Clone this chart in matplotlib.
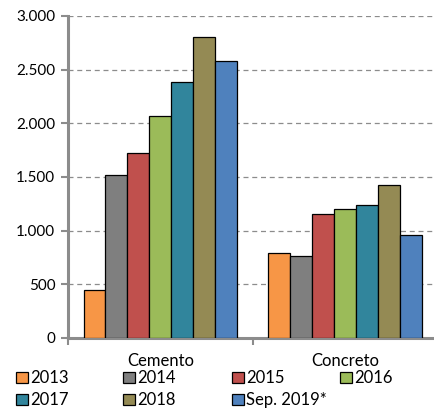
import numpy as np
import matplotlib.pyplot as plt
from matplotlib.patches import Patch
from matplotlib.ticker import FuncFormatter

plt.rcParams['font.family'] = ['Lato', 'DejaVu Sans']

categories = ['Cemento', 'Concreto']
series = ['2013', '2014', '2015', '2016', '2017', '2018', 'Sep. 2019*']
values = {
    '2013':       [450, 790],
    '2014':       [1520, 760],
    '2015':       [1720, 1150],
    '2016':       [2070, 1200],
    '2017':       [2380, 1240],
    '2018':       [2800, 1420],
    'Sep. 2019*': [2580, 960],
}
colors = ['#F79646', '#7F7F7F', '#C0504D', '#9BBB59', '#31859C', '#948A54', '#4F81BD']

fig = plt.figure(figsize=(4.35, 4.08), dpi=100)
ax = fig.add_axes([0.156, 0.172, 0.85, 0.789])

n = len(series)
group_w = 0.83
bw = group_w / n
x = np.arange(len(categories))
for i, (s, c) in enumerate(zip(series, colors)):
    ax.bar(x - group_w / 2 + bw * (i + 0.5), values[s], width=bw, color=c,
           edgecolor='black', linewidth=0.9, zorder=3)

ax.set_xlim(-0.5, 1.5)
ax.set_ylim(0, 3000)
ax.set_yticks(np.arange(0, 3001, 500))
ax.yaxis.set_major_formatter(FuncFormatter(lambda v, p: f'{int(v):,}'.replace(',', '.')))
ax.grid(axis='y', linestyle=(0, (4, 3)), color='#8c8c8c', linewidth=0.9, zorder=0)

ax.set_xticks([-0.5, 0.5, 1.5])
ax.set_xticklabels([])
ax.set_xticks(x, minor=True)
ax.set_xticklabels(categories, minor=True, fontsize=12)
ax.tick_params(axis='x', which='minor', length=0, pad=11)
ax.tick_params(axis='x', which='major', length=5, color='#8c8c8c', width=1.5)
ax.tick_params(axis='y', length=5, color='#8c8c8c', width=1.5, labelsize=11, pad=4)

for side in ['top', 'right']:
    ax.spines[side].set_visible(False)
for side in ['left', 'bottom']:
    ax.spines[side].set_color('#8c8c8c')
    ax.spines[side].set_linewidth(2.2)

# legend laid out in equal-width columns, row by row
col_x = [0.037, 0.283, 0.534, 0.782]
row_y = [0.927, 0.981]
for i, (s, c) in enumerate(zip(series, colors)):
    r, k = divmod(i, 4)
    h = Patch(facecolor=c, edgecolor='black', linewidth=0.9)
    leg = fig.legend([h], [s], loc='center left',
                     bbox_to_anchor=(col_x[k], 1 - row_y[r]), frameon=False,
                     fontsize=12, handlelength=0.7, handleheight=0.7,
                     handletextpad=0.12, borderpad=0, borderaxespad=0)

plt.savefig('out.png', dpi=100)
